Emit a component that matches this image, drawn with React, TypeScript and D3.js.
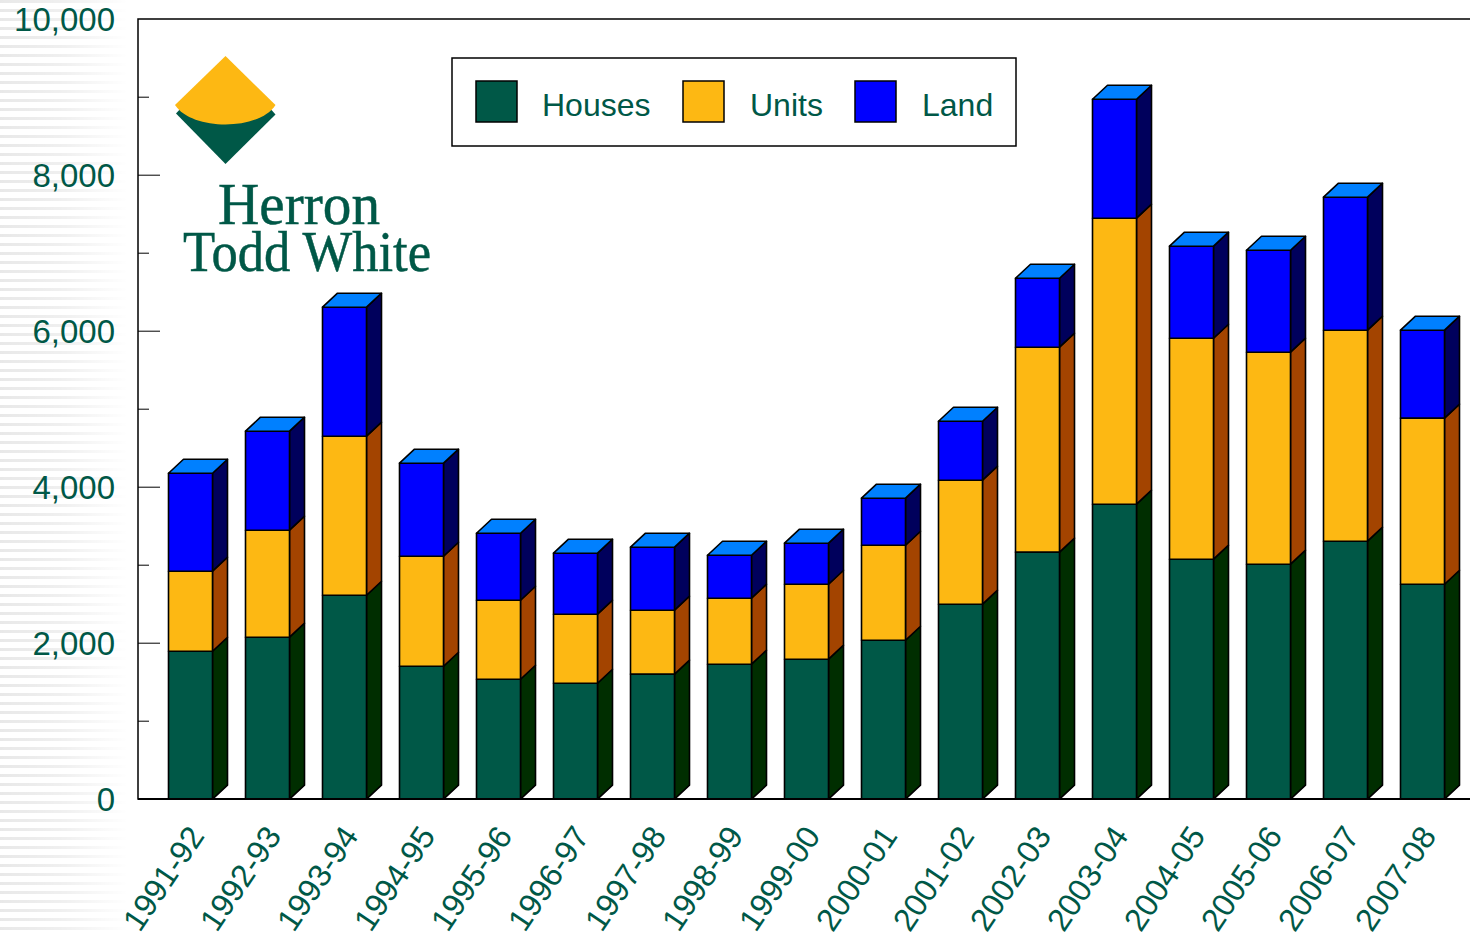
import React from "react";
import * as d3 from "d3";

const years = ["1991-92","1992-93","1993-94","1994-95","1995-96","1996-97","1997-98","1998-99","1999-00","2000-01","2001-02","2002-03","2003-04","2004-05","2005-06","2006-07","2007-08"];
const houses = [1897,2077,2615,1705,1538,1487,1603,1731,1795,2038,2500,3167,3782,3077,3013,3308,2756];
const units = [1026,1372,2039,1410,1013,885,820,846,961,1218,1590,2628,3667,2833,2718,2705,2129];
const land = [1256,1269,1654,1193,859,782,808,551,526,603,756,884,1525,1180,1307,1705,1128];
const seriesNames = ["Houses","Units","Land"];
const frontColors = ["#005847","#FDB813","#0000FF"];
const sideColors = ["#002E00","#A34400","#00005C"];
const topColor = "#0080FF";
const majorTicks = [0,2000,4000,6000,8000,10000];
const minorTicks = [1000,3000,5000,7000,9000];

const W = 1470, H = 936;
const DX = 15, DY = 14;
const TEXT = "#005847";
const SANS = "'Liberation Sans', Arial, sans-serif";
const SERIF = "'Liberation Serif', serif";

const y = d3.scaleLinear().domain([0, 10000]).range([799.2, 19.2]);
const x = d3.scaleBand<string>().domain(years).range([152, 152 + 77 * 17]).paddingInner(0.4286).paddingOuter(0.2143);
const rows = years.map((year, i) => ({ year, Houses: houses[i], Units: units[i], Land: land[i] }));
const stacked = d3.stack<any>().keys(seriesNames)(rows);

const stripeRows = d3.range(0, H, 9);

export default function App() {
  const bw = x.bandwidth();
  return (
    <svg width={W} height={H} viewBox={`0 0 ${W} ${H}`} style={{ position: "absolute", left: 0, top: 0, display: "block", background: "#fff" }}>
      <defs>
        <linearGradient id="fade" x1="0" x2="1" y1="0" y2="0">
          <stop offset="0" stopColor="#000" stopOpacity="0.09" />
          <stop offset="0.5" stopColor="#000" stopOpacity="0.06" />
          <stop offset="1" stopColor="#000" stopOpacity="0" />
        </linearGradient>
      </defs>
      {stripeRows.map((r) => (
        <rect key={r} x={0} y={r} width={128} height={3} fill="url(#fade)" />
      ))}
      <rect x={138} y={19} width={W - 138} height={780} fill="#fff" />

      {stacked.map((s, si) => (
        <g key={s.key}>
          {s.map((d, i) => {
            const x0 = x(years[i])!;
            const yTop = y(d[1]);
            const yBot = y(d[0]);
            return (
              <g key={years[i]} stroke="#000" strokeWidth={1.6} strokeLinejoin="round">
                <path d={`M${x0 + bw},${yBot}L${x0 + bw + DX},${yBot - DY}L${x0 + bw + DX},${yTop - DY}L${x0 + bw},${yTop}Z`} fill={sideColors[si]} />
                <rect x={x0} y={yTop} width={bw} height={yBot - yTop} fill={frontColors[si]} />
                {si === stacked.length - 1 && (
                  <path d={`M${x0},${yTop}L${x0 + DX},${yTop - DY}L${x0 + bw + DX},${yTop - DY}L${x0 + bw},${yTop}Z`} fill={topColor} />
                )}
              </g>
            );
          })}
        </g>
      ))}

      <path d={`M${W},19H138V799H${W}`} fill="none" stroke="#000" strokeWidth={1.5} />
      <line x1={138} x2={W} y1={799} y2={799} stroke="#000" strokeWidth={2} />
      {majorTicks.slice(1, -1).map((t) => (
        <line key={t} x1={138} x2={160} y1={y(t)} y2={y(t)} stroke="#000" strokeWidth={1} />
      ))}
      {minorTicks.map((t) => (
        <line key={t} x1={138} x2={149} y1={y(t)} y2={y(t)} stroke="#000" strokeWidth={1} />
      ))}
      {majorTicks.map((t) => (
        <text key={t} x={115} y={y(t) + 12} textAnchor="end" fontFamily={SANS} fontSize={33} fill={TEXT}>
          {d3.format(",")(t)}
        </text>
      ))}
      {years.map((yr) => (
        <text key={yr} transform={`translate(${x(yr)! + 37},${836}) rotate(-56)`} textAnchor="end" fontFamily={SANS} fontSize={32} fill={TEXT}>
          {yr}
        </text>
      ))}

      <rect x={452} y={58} width={564} height={88} fill="#fff" stroke="#000" strokeWidth={1.5} />
      {seriesNames.map((n, i) => {
        const bx = [476, 683, 855][i];
        const tx = [542, 750, 922][i];
        return (
          <g key={n}>
            <rect x={bx} y={81} width={41} height={41} fill={frontColors[i]} stroke="#000" strokeWidth={1.5} />
            <text x={tx} y={116} fontFamily={SANS} fontSize={32} fill={TEXT}>{n}</text>
          </g>
        );
      })}

      <path d="M183,106 L176,113.500 L225.500,164 L275.500,114.500 L268,106 Z" fill="#005847" />
      <path d="M225.500,56 L275.500,105 C259,131 192,131 175,105 Z" fill="#FDB813" />
      <text x={218} y={224} fontFamily={SERIF} fontSize={60} fill="#005847" stroke="#005847" strokeWidth={0.5} textLength={162} lengthAdjust="spacingAndGlyphs">Herron</text>
      <text x={183} y={271} fontFamily={SERIF} fontSize={57} fill="#005847" stroke="#005847" strokeWidth={0.5} textLength={248} lengthAdjust="spacingAndGlyphs">Todd White</text>
    </svg>
  );
}
